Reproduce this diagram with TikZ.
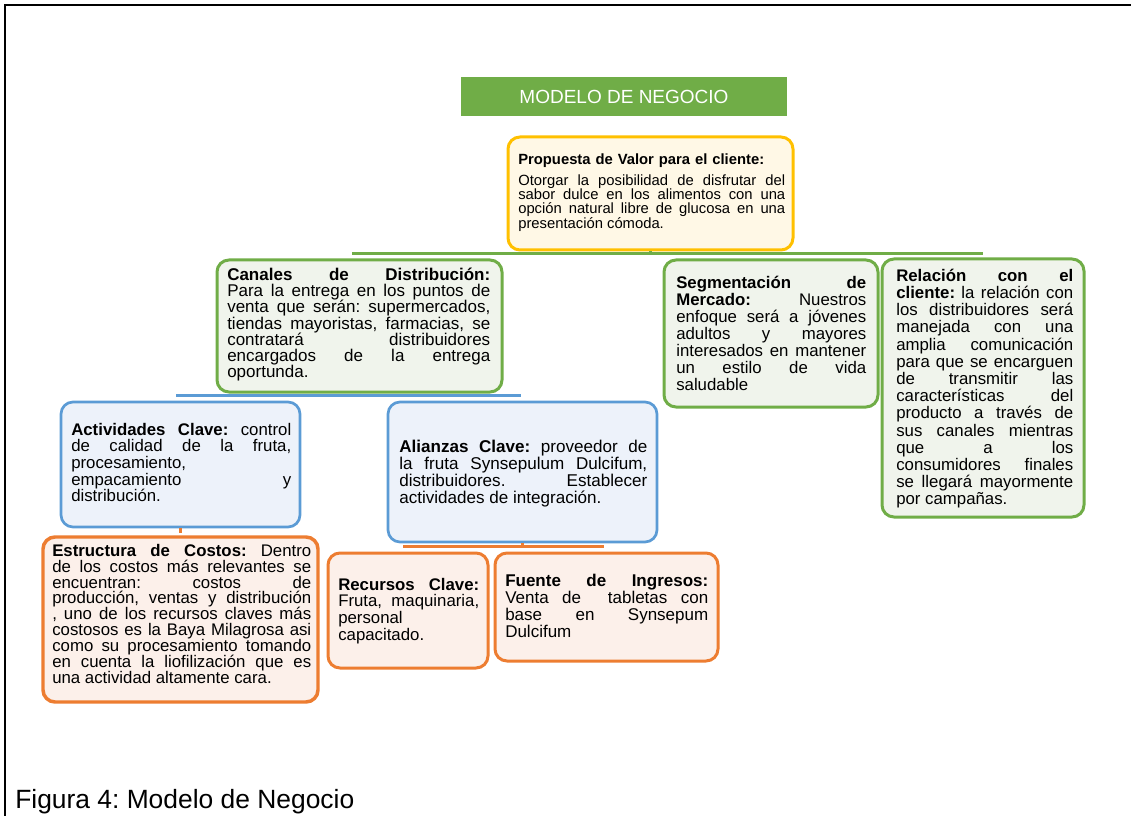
\documentclass[tikz,border=0pt]{standalone}
\usepackage{fontspec}
\setmainfont{Liberation Sans}
\usetikzlibrary{fit}
\definecolor{gr}{HTML}{70AD47}
\definecolor{grf}{HTML}{F0F4EC}
\definecolor{gd}{HTML}{FFC000}
\definecolor{gdf}{HTML}{FFF8E6}
\definecolor{bl}{HTML}{5B9BD5}
\definecolor{blf}{HTML}{EDF2FA}
\definecolor{org}{HTML}{ED7D31}
\definecolor{orf}{HTML}{FCF0EA}
\newcommand\tstrut{\rule{0pt}{1em}}
\tolerance=10000
\hyphenpenalty=10000
\exhyphenpenalty=10000
\frenchspacing
\tikzset{
  box/.style={draw, rounded corners=9pt, line width=2.25pt, inner sep=0pt},
  gbox/.style={box, draw=gr, fill=grf},
  ybox/.style={box, draw=gd, fill=gdf},
  bbox/.style={box, draw=bl, fill=blf, line width=2pt},
  obox/.style={box, draw=org, fill=orf},
  txt/.style={anchor=north west, inner sep=0pt, align=justify},
  gline/.style={draw=gr, line width=2.2pt},
  bline/.style={draw=bl, line width=2pt},
  oline/.style={draw=org, line width=2pt},
}
\begin{document}
\begin{tikzpicture}[x=0.75pt,y=-0.75pt]
\useasboundingbox (0,0) rectangle (1131,816);
\draw[line width=1.6pt] (1131,5) -- (5,5) -- (5,816);

% title
\node[fill=gr, inner sep=0pt, fit={(461,77) (787,116)}] (title) {};
\node[text=white, inner sep=0pt, font=\fontsize{14.25pt}{16pt}\selectfont] (titletxt) at (title.center) {MODELO DE NEGOCIO};

% propuesta
\node[ybox, fit={(508,137) (793,250)}] (prop) {};
\node[txt, align=left, text width=200.25pt, font=\bfseries\fontsize{11.1pt}{10.7pt}\selectfont] (proph) at (518,149.2) {\tstrut Propuesta de Valor para el cliente:};
\node[txt, text width=200.25pt, font=\fontsize{11.1pt}{10.7pt}\selectfont] (propt) at (518,170.2) {\tstrut Otorgar la posibilidad de disfrutar del\linebreak
sabor dulce en los alimentos con una\linebreak
opción natural libre de glucosa en una\linebreak
presentación cómoda.};

% green bus
\coordinate (gL) at (352,253.5);
\coordinate (gR) at (983,253.5);
\draw[gline] (prop.south) -- (prop.south |- gL);
\draw[gline] (gL) -- (gR);

% canales
\node[gbox, fit={(217,260) (502,392)}] (can) {};
\node[txt, text width=197.25pt, font=\fontsize{12.75pt}{12.2pt}\selectfont] (cant) at (227,263) {\tstrut\textbf{Canales de Distribución:}\linebreak
Para la entrega en los puntos de\linebreak
venta que serán: supermercados,\linebreak
tiendas mayoristas, farmacias, se\linebreak
contratará distribuidores\linebreak
encargados de la entrega\linebreak
oportunda.};

% segmentacion
\node[gbox, fit={(664,260) (878,407)}] (seg) {};
\node[txt, text width=142.5pt, font=\fontsize{12.6pt}{12.8pt}\selectfont] (segt) at (676,271.2) {\tstrut\textbf{Segmentación de}\linebreak
\textbf{Mercado:} Nuestros\linebreak
enfoque será a jóvenes\linebreak
adultos y mayores\linebreak
interesados en mantener\linebreak
un estilo de vida\linebreak
saludable};

% relacion
\node[gbox, fit={(882,259) (1084,517)}] (rel) {};
\node[txt, text width=132.75pt, font=\fontsize{12.6pt}{12.9pt}\selectfont] (relt) at (896,264.2) {\tstrut\textbf{Relación con el}\linebreak
\textbf{cliente:} la relación con\linebreak
los distribuidores será\linebreak
manejada con una\linebreak
amplia comunicación\linebreak
para que se encarguen\linebreak
de transmitir las\linebreak
características del\linebreak
producto a través de\linebreak
sus canales mientras\linebreak
que a los\linebreak
consumidores finales\linebreak
se llegará mayormente\linebreak
por campañas.};

% blue bus
\coordinate (bL) at (176,395.5);
\coordinate (bR) at (521,395.5);
\draw[bline] (can.south) -- (can.south |- bL);
\draw[bline] (bL) -- (bR);

% actividades
\node[bbox, fit={(61,402) (300,527)}] (act) {};
\node[txt, text width=165pt, font=\fontsize{12.6pt}{12.5pt}\selectfont] (actt) at (71,418.2) {\tstrut\textbf{Actividades Clave:} control\linebreak
de calidad de la fruta,\linebreak
procesamiento,\newline
empacamiento y\linebreak
distribución.};

% alianzas
\node[bbox, fit={(388,402) (657,542)}] (ali) {};
\node[txt, text width=186pt, font=\fontsize{12.8pt}{12.7pt}\selectfont] (alit) at (399,435.6) {\tstrut\textbf{Alianzas Clave:} proveedor de\linebreak
la fruta Synsepulum Dulcifum,\linebreak
distribuidores. Establecer\linebreak
actividades de integración.};

% estructura
\node[obox, line width=2.6pt, fit={(43,537) (318,702)}] (est) {};
\node[txt, text width=194.25pt, font=\fontsize{12.6pt}{11.9pt}\selectfont] (estt) at (52,539.2) {\tstrut\textbf{Estructura de Costos:} Dentro\linebreak
de los costos más relevantes se\linebreak
encuentran: costos de\linebreak
producción, ventas y distribución\linebreak
, uno de los recursos claves más\linebreak
costosos es la Baya Milagrosa asi\linebreak
como su procesamiento tomando\linebreak
en cuenta la liofilización que es\linebreak
una actividad altamente cara.};
\draw[oline] (act.south) -- ++(0,5);

% orange bus
\coordinate (oL) at (403,546.5);
\coordinate (oR) at (604,546.5);
\draw[oline] (ali.south) -- (ali.south |- oL);
\draw[oline] (oL) -- (oR);

% recursos
\node[obox, fit={(328,553) (488,668)}] (rec) {};
\node[txt, text width=105.75pt, font=\fontsize{12.6pt}{12.5pt}\selectfont] (rect) at (338,573.2) {\tstrut\textbf{Recursos Clave:}\linebreak
Fruta, maquinaria,\linebreak
personal\newline
capacitado.};

% fuente
\node[obox, fit={(495,553) (718,661)}] (fue) {};
\node[txt, text width=152.25pt, font=\fontsize{12.75pt}{12.75pt}\selectfont] (fuet) at (505,569) {\tstrut\textbf{Fuente de Ingresos:}\linebreak
Venta de\ \ tabletas con\linebreak
base en Synsepum\linebreak
Dulcifum};

% caption
\node[anchor=base west, inner sep=0pt, font=\fontsize{19.8pt}{22pt}\selectfont] (cap) at (15,808) {Figura 4: Modelo de Negocio};
\end{tikzpicture}
\end{document}
